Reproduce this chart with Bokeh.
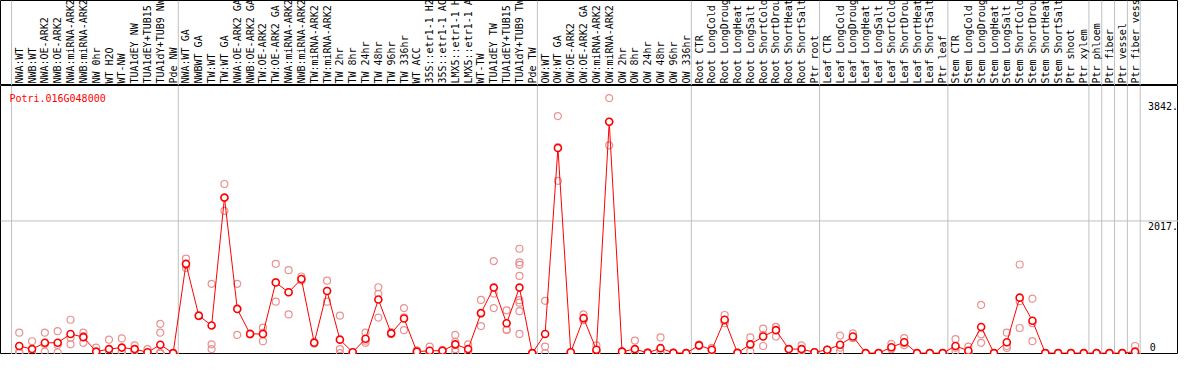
import math
from bokeh.plotting import figure
from bokeh.models import Range1d, Span
from bokeh.layouts import column
from bokeh.core.properties import value
from bokeh.embed import file_html
from bokeh.resources import INLINE

# ---------------- data ----------------
gene = "Potri.016G048000"

labels = [
    "NWA:WT", "NWB:WT", "NWA:OE-ARK2", "NWB:OE-ARK2", "NWA:miRNA-ARK2", "NWB:miRNA-ARK2",
    "NW 0hr", "WT H2O", "WT-NW", "TUA1dEY NW", "TUA1dEY+TUB15", "TUA1dY+TUB9 NW", "Pde NW",
    "NWA:WT GA", "NWBWT GA", "TW:WT", "TW:WT GA", "NWA:OE-ARK2 GA", "NWB:OE-ARK2 GA",
    "TW:OE-ARK2", "TW:OE-ARK2 GA", "NWA:miRNA-ARK2", "NWB:miRNA-ARK2", "TW:miRNA-ARK2",
    "TW:miRNA-ARK2", "TW 2hr", "TW 8hr", "TW 24hr", "TW 48hr", "TW 96hr", "TW 336hr",
    "WT ACC", "35S::etr1-1 H2", "35S::etr1-1 AC", "LMX5::etr1-1 H", "LMX5::etr1-1 A",
    "WT-TW", "TUA1dEY TW", "TUA1dEY+TUB15", "TUA1dY+TUB9 TW", "Pde TW",
    "OW:WT", "OW:WT GA", "OW:OE-ARK2", "OW:OE-ARK2 GA", "OW:miRNA-ARK2", "OW:miRNA-ARK2",
    "OW 2hr", "OW 8hr", "OW 24hr", "OW 48hr", "OW 96hr", "OW 336hr",
    "Root CTR", "Root LongCold", "Root LongDroug", "Root LongHeat", "Root LongSalt",
    "Root ShortCold", "Root ShortDrou", "Root ShortHeat", "Root ShortSalt", "Ptr root",
    "Leaf CTR", "Leaf LongCold", "Leaf LongDroug", "Leaf LongHeat", "Leaf LongSalt",
    "Leaf ShortCold", "Leaf ShortDrou", "Leaf ShortHeat", "Leaf ShortSalt", "Ptr leaf",
    "Stem CTR", "Stem LongCold", "Stem LongDroug", "Stem LongHeat", "Stem LongSalt",
    "Stem ShortCold", "Stem ShortDrou", "Stem ShortHeat", "Stem ShortSalt", "Ptr shoot",
    "Ptr xylem", "Ptr phloem", "Ptr fiber", "Ptr vessel", "Ptr fiber vess",
]

means = [
    108, 61, 157, 157, 292, 243, 22, 61, 84, 61, 12, 127, 0,
    1362, 571, 422, 2374, 672, 292, 292, 1077, 928, 1130, 157, 947, 205, 12, 219,
    817, 301, 528, 22, 36, 36, 133, 61, 610, 1000, 455, 1000, 0,
    292, 3131, 12, 533, 51, 3531, 22, 61, 3, 75, 3, 0,
    118, 51, 509, 3, 133, 253, 350, 61, 61, 12,
    51, 127, 253, 0, 0, 89, 166, 0, 0, 0,
    108, 36, 398, 0, 166, 846, 494, 0, 0, 0, 0,
    0, 0, 0, 22,
]

replicates = [
    [311, 22, 0], [181, 0, 0], [311, 22, 138], [335, 12, 124], [509, 133, 234],
    [311, 157, 261], [84, 0, 0], [205, 0, 0], [224, 12, 16], [118, 36, 30],
    [61, 0, 0], [446, 311, 0, 0, 0, 0], [0, 0, 0],
    [1443, 1299, 1344], [580, 562, 571], [1058, 133, 61], [2581, 2172, 2369],
    [1058, 277, 681], [285, 300, 292], [388, 181, 307], [1362, 784, 1085],
    [1265, 590, 929], [1169, 1110, 1111], [170, 145, 157], [1106, 784, 951],
    [571, 61, 0], [12, 12, 12], [311, 157, 190], [1005, 904, 542], [320, 290, 293],
    [687, 350, 547], [40, 22, 5], [99, 5, 5], [50, 36, 22], [277, 61, 22, 172],
    [133, 22, 28], [812, 412, 606], [1405, 687, 908], [653, 359, 353],
    [1593, 1386, 1347, 1178, 807, 769, 639, 292], [0, 0, 0],
    [798, 99, 0], [3618, 2629, 3146], [12, 12, 12], [590, 503, 506], [118, 20, 15],
    [3893, 3170, 3530], [22, 22, 22], [191, 0, 0], [10, 0, 0], [239, 0, 0],
    [3, 3, 3], [0, 0, 0],
    [130, 110, 114], [80, 40, 33], [581, 455, 491], [3, 3, 3], [239, 130, 30],
    [373, 108, 278], [398, 253, 399], [61, 61, 61], [118, 40, 25], [12, 12, 12],
    [51, 51, 51], [267, 30, 84], [301, 230, 228], [0, 0, 0], [0, 0, 0],
    [142, 60, 65], [229, 118, 151], [0, 0, 0], [0, 0, 0], [0, 0, 0],
    [214, 30, 80], [99, 5, 4], [735, 287, 157], [0, 0, 0], [311, 108, 79],
    [1352, 793, 383], [831, 455, 181], [0, 0, 0], [0, 0, 0], [0, 0, 0], [0, 0, 0],
    [0, 0, 0], [0, 0, 0], [0, 0, 0], [108, 0, 0],
]

group_breaks = [0, 13, 41, 53, 63, 73, 84, 85, 86, 87, 88]
tick_values = [0, 2017, 3842]
tick_labels = ["0", "2017.", "3842."]

# ---------------- layout ----------------
W = 1178
H_HEAD = 85
H_MAIN = 269
GRID = "#c0c0c0"
PINK = "#eb9191"
FONT = value("DejaVu Sans Mono")

idx = list(range(len(labels)))
x_range = Range1d(-1.4615, 90.385)
y_lo, y_hi = -21.7, 4085.0


def base_fig(height, y_range):
    f = figure(width=W, height=height, x_range=x_range, y_range=y_range,
               output_backend="svg", toolbar_location=None,
               x_axis_location=None, y_axis_location=None, min_border=0,
               outline_line_color="black", outline_line_width=1,
               background_fill_color="white", border_fill_color="white")
    f.xgrid.visible = False
    f.ygrid.visible = False
    for b in group_breaks:
        f.add_layout(Span(location=b - 0.6, dimension="height", line_color=GRID,
                          line_width=1, level="underlay"))
    return f


head = base_fig(H_HEAD, Range1d(0, H_HEAD))
head.text(x=idx, y=[2] * len(idx), text=labels, angle=math.pi / 2,
          text_align="left", text_baseline="middle", text_font=FONT,
          text_font_size=value("10px"), text_color="black")

main = base_fig(H_MAIN, Range1d(y_lo, y_hi))
main.add_layout(Span(location=tick_values[1], dimension="width", line_color=GRID,
                     line_width=1, level="underlay"))

rx, ry = [], []
for i, reps in enumerate(replicates):
    for r in reps:
        rx.append(i)
        ry.append(r)

main.scatter(rx, ry, marker="circle", size=7, fill_color=None,
             line_color=PINK, line_width=1.2)
main.line(idx, means, line_color="red", line_width=1)
main.scatter(idx, means, marker="circle", size=7, fill_color="white",
             line_color="red", line_width=1.6)

# value labels on the right
main.text(x=[88.15], y=[tick_values[0]], text=[tick_labels[0]], text_align="left",
          text_baseline="bottom", text_font=FONT, text_font_size=value("10px"),
          text_color="black", y_offset=-2)
main.text(x=[88.0, 88.0], y=tick_values[1:], text=tick_labels[1:], text_align="left",
          text_baseline="top", text_font=FONT, text_font_size=value("10px"),
          text_color="black", y_offset=1)

# gene name
px_per_unit = (y_hi - y_lo) / H_MAIN
main.text(x=[(9 - 19) / 13], y=[y_hi - 7.5 * px_per_unit], text=[gene],
          text_align="left", text_baseline="top", text_font=FONT,
          text_font_size=value("10px"), text_color="red")

layout = column(head, main, spacing=0)
open("out.html", "w").write(file_html(layout, INLINE))
